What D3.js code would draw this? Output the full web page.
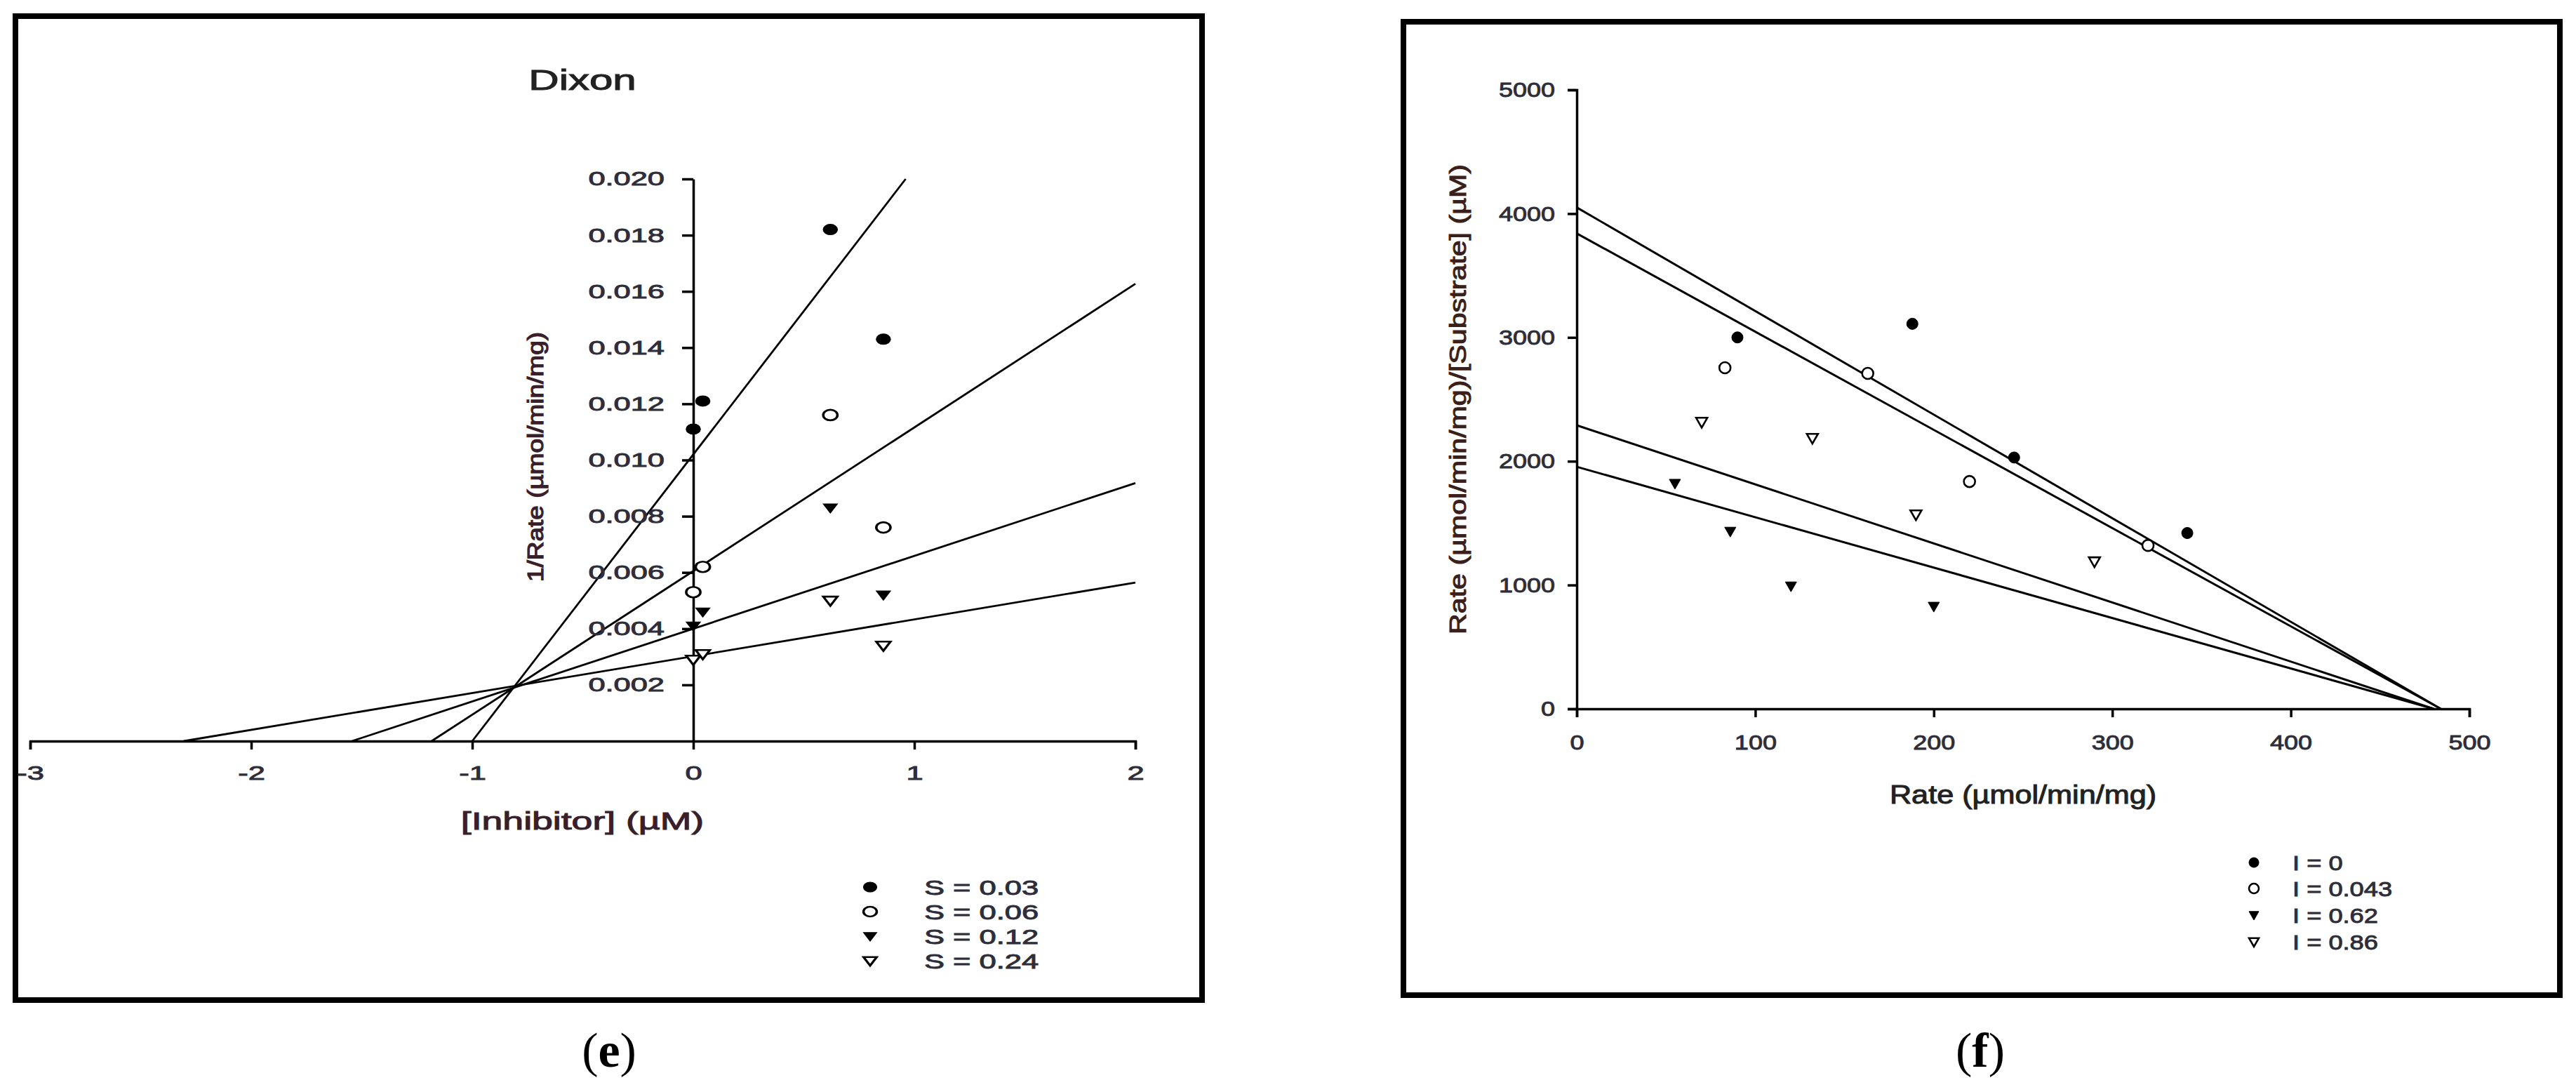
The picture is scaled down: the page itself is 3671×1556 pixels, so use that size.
<!DOCTYPE html>
<html>
<head>
<meta charset="utf-8">
<script src="https://cdn.jsdelivr.net/npm/d3@7"></script>
<style>
body { margin: 0; background: #fff; }
</style>
</head>
<body>
<svg id="chart" width="3671" height="1556"></svg>
<script>
// panel (e): Dixon plot
const inhibitor = [0, 0.043, 0.62, 0.86];
const dixonLabels = ["S = 0.03", "S = 0.06", "S = 0.12", "S = 0.24"];
const dixonRate = [
    [0.0111, 0.0121, 0.0182, 0.0143],
    [0.0053, 0.0062, 0.0116, 0.0076],
    [0.0041, 0.0046, 0.0083, 0.0052],
    [0.0029, 0.0031, 0.0050, 0.0034]
];
const dixonIntercept = [0.0102, 0.00605, 0.0040, 0.00302];
const dixonSlope = [0.0102, 0.00511, 0.00259, 0.00131];
const dixonXTicks = [-3, -2, -1, 0, 1, 2];
const dixonYTicks = [0.002, 0.004, 0.006, 0.008, 0.010, 0.012, 0.014, 0.016, 0.018, 0.020];

// panel (f): Eadie-Hofstee plot
const hofLabels = ["I = 0", "I = 0.043", "I = 0.62", "I = 0.86"];
const hofRate = [
    [90, 188, 245, 342],
    [83, 163, 220, 320],
    [55, 86, 120, 200],
    [70, 132, 190, 290]
];
const hofRatio = [
    [3000, 3110, 2030, 1420],
    [2755, 2710, 1836, 1320],
    [1820, 1433, 991, 827],
    [2317, 2187, 1569, 1190]
];
const hofIntercept = [4050, 3840, 2290, 1955];
const hofXIntercept = [484, 484, 480, 480];
const hofXTicks = [0, 100, 200, 300, 400, 500];
const hofYTicks = [0, 1000, 2000, 3000, 4000, 5000];

const kinds = ["dot", "circle", "tri", "opentri"];
const sans = "'Liberation Sans', Arial, sans-serif";

const svg = d3.select("#chart");
svg.append("rect").attr("width", 3671).attr("height", 1556).attr("fill", "#fff");

// the source picture is stretched sideways, so text is widened with textLength
function stretch(sel, k) {
    sel.each(function() {
        const w = this.getComputedTextLength();
        d3.select(this).attr("textLength", w * k).attr("lengthAdjust", "spacingAndGlyphs");
    });
}

// thin outline in the same colour makes the text as heavy as the blurred original
function ink(sel, color, w) {
    sel.style("font-family", sans)
        .attr("fill", color)
        .attr("stroke", color)
        .attr("stroke-width", w);
}

function marker(kind, r) {
    if (kind == "dot" || kind == "circle") {
        return `M${r},0A${r},${r} 0 1,1 ${-r},0A${r},${r} 0 1,1 ${r},0Z`;
    }
    return `M${-r},${-0.75 * r}L${r},${-0.75 * r}L0,${r}Z`;
}

function drawMarkers(g, kind, sx, sy, r) {
    const filled = kind == "dot" || kind == "tri";
    g.attr("transform", `scale(${sx},${sy})`);
    g.append("path")
        .attr("d", marker(kind, r))
        .attr("fill", filled ? "#000" : "#fff")
        .attr("stroke", "#000")
        .attr("stroke-width", filled ? 1 : 2.6);
}

function styleAxis(g, size, k, color) {
    g.select(".domain").attr("stroke", "#000").attr("stroke-width", 3.5);
    g.selectAll(".tick line").attr("stroke", "#000").attr("stroke-width", 3.5);
    g.selectAll(".tick text")
        .attr("font-size", size)
        .call(ink, color, 0.9)
        .call(stretch, k);
}

// ---------- (e) Dixon ----------
const dx = d3.scaleLinear().domain([-3, 2]).range([43, 1618]);
const dy = d3.scaleLinear().domain([0, 0.020]).range([1056, 255]);

svg.append("rect")
    .attr("x", 22).attr("y", 23)
    .attr("width", 1691).attr("height", 1402)
    .attr("fill", "none").attr("stroke", "#000").attr("stroke-width", 8);

const dixon = svg.append("g");

dixon.selectAll("line.fit")
    .data(dixonIntercept.map((b, i) => ({b: b, m: dixonSlope[i]})))
    .join("line")
    .attr("class", "fit")
    .attr("x1", d => dx(-d.b / d.m))
    .attr("y1", dy(0))
    .attr("x2", d => dx(Math.min(2, (0.020 - d.b) / d.m)))
    .attr("y2", d => dy(Math.min(0.020, d.b + d.m * 2)))
    .attr("stroke", "#000")
    .attr("stroke-width", 2.8);

dixon.append("g")
    .attr("transform", `translate(0,${dy(0)})`)
    .call(d3.axisBottom(dx).tickValues(dixonXTicks).tickSize(12).tickSizeOuter(12)
        .tickPadding(23).tickFormat(d => String(d)))
    .call(styleAxis, 28, 1.55, "#2e2e3a");

dixon.append("g")
    .attr("transform", `translate(${dx(0)},0)`)
    .call(d3.axisLeft(dy).tickValues(dixonYTicks).tickSize(16).tickSizeOuter(0)
        .tickPadding(25).tickFormat(d3.format(".3f")))
    .call(styleAxis, 28, 1.55, "#2e2e3a");

dixonRate.forEach((row, s) => {
    row.forEach((v, i) => {
        const p = dixon.append("g")
            .attr("transform", `translate(${dx(inhibitor[i])},${dy(v)})`)
            .append("g");
        drawMarkers(p, kinds[s], 1.35, 1, 7.5);
    });
});

dixon.append("text")
    .attr("x", 830).attr("y", 128)
    .attr("text-anchor", "middle")
    .attr("font-size", 40)
    .call(ink, "#222", 1)
    .text("Dixon")
    .call(stretch, 1.5);

dixon.append("text")
    .attr("x", 830).attr("y", 1182)
    .attr("text-anchor", "middle")
    .attr("font-size", 35)
    .call(ink, "#3a1f2a", 1)
    .text("[Inhibitor] (µM)")
    .call(stretch, 1.53);

dixon.append("text")
    .attr("transform", "translate(774,651) rotate(-90)")
    .attr("text-anchor", "middle")
    .attr("font-size", 32)
    .call(ink, "#3a1f2a", 1.2)
    .attr("textLength", 356)
    .attr("lengthAdjust", "spacingAndGlyphs")
    .text("1/Rate (µmol/min/mg)");

const dixonLegend = dixon.append("g")
    .selectAll("g")
    .data(dixonLabels)
    .join("g")
    .attr("transform", (d, i) => `translate(1240,${1264 + i * 35})`);

dixonLegend.each(function(d, i) {
    drawMarkers(d3.select(this).append("g"), kinds[i], 1.35, 1, 7);
});

dixonLegend.append("text")
    .attr("x", 77).attr("y", 11)
    .attr("font-size", 30)
    .call(ink, "#2e2e3a", 0.9)
    .text(d => d)
    .call(stretch, 1.45);

// ---------- (f) Eadie-Hofstee ----------
const hx = d3.scaleLinear().domain([0, 500]).range([2247, 3519]);
const hy = d3.scaleLinear().domain([0, 5000]).range([1010, 128]);

svg.append("rect")
    .attr("x", 2000).attr("y", 31)
    .attr("width", 1648).attr("height", 1387)
    .attr("fill", "none").attr("stroke", "#000").attr("stroke-width", 8);

const hof = svg.append("g");

hof.selectAll("line.fit")
    .data(hofIntercept.map((b, i) => ({b: b, x0: hofXIntercept[i]})))
    .join("line")
    .attr("class", "fit")
    .attr("x1", hx(0))
    .attr("y1", d => hy(d.b))
    .attr("x2", d => hx(d.x0))
    .attr("y2", hy(0))
    .attr("stroke", "#000")
    .attr("stroke-width", 3);

hof.append("g")
    .attr("transform", `translate(0,${hy(0)})`)
    .call(d3.axisBottom(hx).tickValues(hofXTicks).tickSize(12).tickSizeOuter(12)
        .tickPadding(25).tickFormat(d => String(d)))
    .call(styleAxis, 30, 1.2, "#2e2e3a");

hof.append("g")
    .attr("transform", `translate(${hx(0)},0)`)
    .call(d3.axisLeft(hy).tickValues(hofYTicks).tickSize(13).tickSizeOuter(13)
        .tickPadding(18).tickFormat(d => String(d)))
    .call(styleAxis, 30, 1.2, "#2e2e3a");

hofRate.forEach((row, s) => {
    row.forEach((v, i) => {
        const p = hof.append("g")
            .attr("transform", `translate(${hx(v)},${hy(hofRatio[s][i])})`)
            .append("g");
        drawMarkers(p, kinds[s], 1, 1, 8);
    });
});

hof.append("text")
    .attr("x", 2883).attr("y", 1145)
    .attr("text-anchor", "middle")
    .attr("font-size", 36)
    .call(ink, "#222", 1)
    .text("Rate (µmol/min/mg)")
    .call(stretch, 1.2);

hof.append("text")
    .attr("transform", "translate(2089,569) rotate(-90)")
    .attr("text-anchor", "middle")
    .attr("font-size", 34)
    .call(ink, "#3a1f1a", 1)
    .attr("textLength", 670)
    .attr("lengthAdjust", "spacingAndGlyphs")
    .text("Rate (µmol/min/mg)/[Substrate] (µM)");

const hofLegend = hof.append("g")
    .selectAll("g")
    .data(hofLabels)
    .join("g")
    .attr("transform", (d, i) => `translate(3212,${[1229, 1266, 1304, 1342][i]})`);

hofLegend.each(function(d, i) {
    drawMarkers(d3.select(this).append("g"), kinds[i], 1, 1, 7);
});

hofLegend.append("text")
    .attr("x", 55).attr("y", 11)
    .attr("font-size", 29)
    .call(ink, "#2e2e3a", 0.9)
    .text(d => d)
    .call(stretch, 1.25);

// panel letters
[["e", 868], ["f", 2822]].forEach(([letter, x]) => {
    const t = svg.append("text")
        .attr("x", x).attr("y", 1520)
        .attr("text-anchor", "middle")
        .style("font-family", "'Liberation Serif', 'Times New Roman', serif")
        .attr("font-size", 70)
        .attr("fill", "#000");
    t.append("tspan").text("(");
    t.append("tspan").attr("font-weight", "bold").text(letter);
    t.append("tspan").text(")");
});
</script>
</body>
</html>
